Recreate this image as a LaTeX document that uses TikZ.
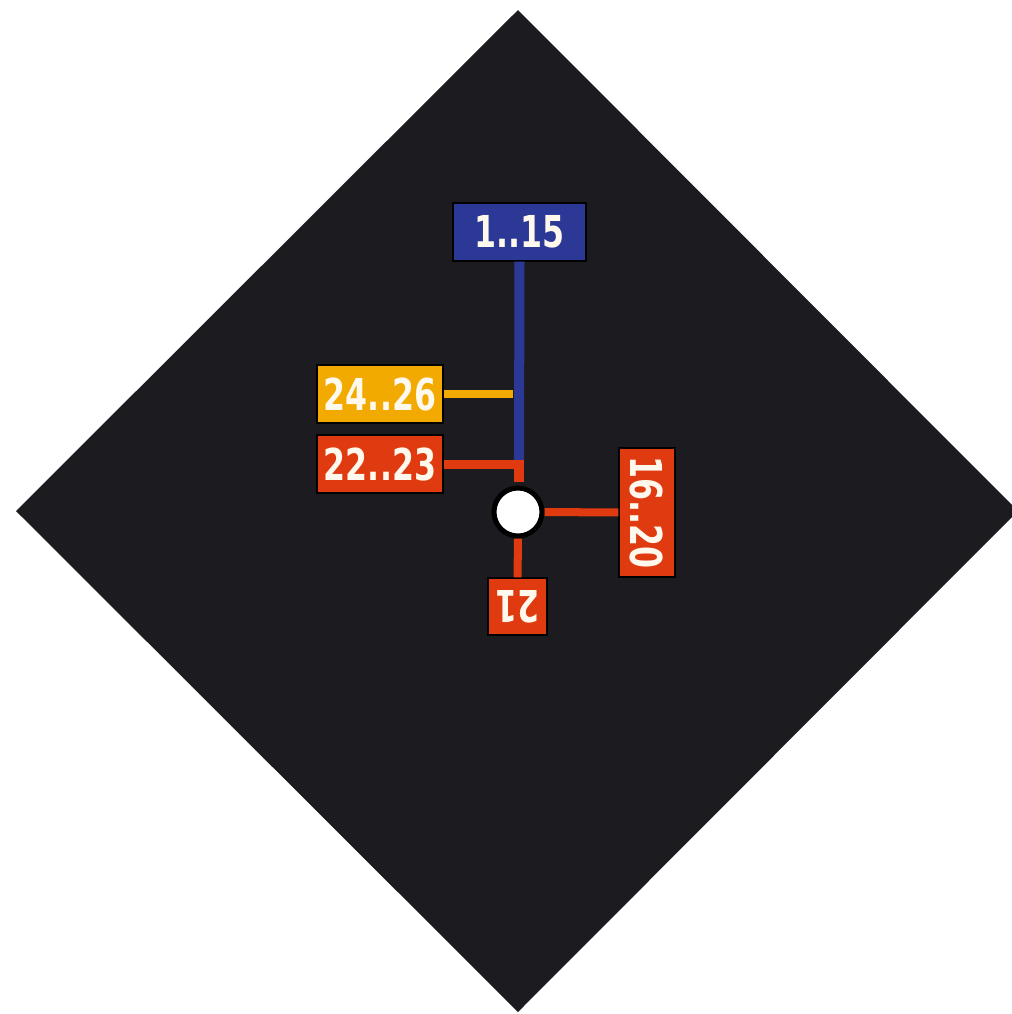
\documentclass[tikz,border=0pt]{standalone}
\usepackage{fontspec}
\newfontfamily\lab{DejaVu Sans}[FakeStretch=0.72]
\definecolor{bg}{HTML}{1C1C20}
\definecolor{cblue}{HTML}{2C3896}
\definecolor{cyel}{HTML}{F2A900}
\definecolor{cred}{HTML}{E03A10}
\definecolor{ctext}{HTML}{FFF8EC}
\begin{document}
\begin{tikzpicture}[x=0.01cm,y=-0.01cm,
  tag/.style={inner sep=0pt, draw=black, line width=0.4pt, text=ctext,
    font=\lab\bfseries\fontsize{12.5}{13}\selectfont, anchor=center},
  wire/.style={line width=0.08cm, line cap=butt}]
\useasboundingbox (0,0) rectangle (1012,1014);
\clip (0,0) rectangle (1012,1014);
\fill[bg] (518,10) -- (1018,511) -- (518,1012) -- (16,511) -- cycle;
% labels
\node[tag, fill=cblue, minimum width=1.33cm, minimum height=0.58cm] (n115) at (519.5,232) {1..15};
\node[tag, fill=cyel, minimum width=1.26cm, minimum height=0.58cm] (n2426) at (380,394) {24..26};
\node[tag, fill=cred, minimum width=1.26cm, minimum height=0.58cm] (n2223) at (380,464) {22..23};
\node[tag, fill=cred, minimum width=1.29cm, minimum height=0.56cm, rotate=-90] (n1620) at (647,512.5) {16..20};
\node[tag, fill=cred, minimum width=0.59cm, minimum height=0.57cm, rotate=180] (n21) at (517.5,606.5) {21};
\node[circle, fill=white, draw=black, line width=0.05cm, minimum size=0.48cm, inner sep=0pt] (hub) at (518,512) {};
% connectors
\coordinate (bend) at (519,464);
\coordinate (bend2) at (519,482);
\coordinate (bluend) at (519,460);
\coordinate (yend) at (513,394);
\draw[wire, cblue, line width=0.1cm] (n115.south) -- (bluend);
\draw[wire, cyel] (n2426.east) -- (yend);
\draw[wire, cred, line width=0.09cm] (n2223.east) -- (bend) -- (bend2);
\draw[wire, cred] (hub) -- (n1620);
\draw[wire, cred] (hub) -- (n21);
\end{tikzpicture}
\end{document}
